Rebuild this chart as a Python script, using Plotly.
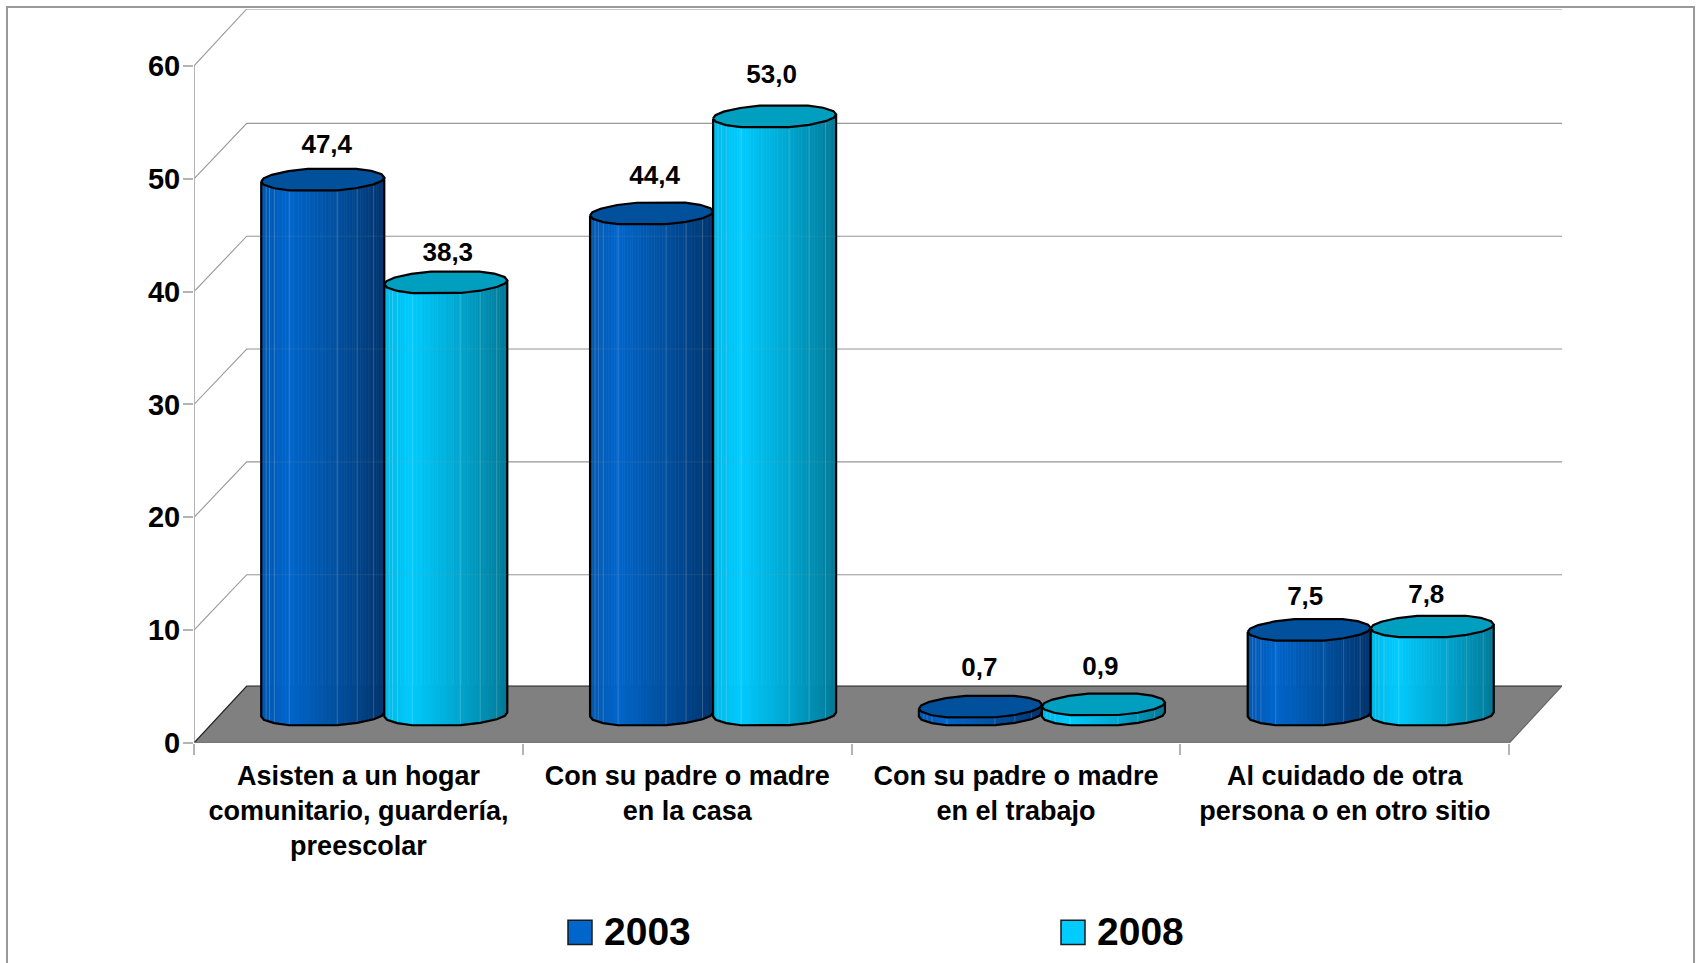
import numpy as np
import plotly.graph_objects as go

categories = ["Asisten a un hogar<br>comunitario, guardería,<br>preescolar",
              "Con su padre o madre<br>en la casa",
              "Con su padre o madre<br>en el trabajo",
              "Al cuidado de otra<br>persona o en otro sitio"]
series_2003 = [47.4, 44.4, 0.7, 7.5]
series_2008 = [38.3, 53.0, 0.9, 7.8]
labels_2003 = ["47,4", "44,4", "0,7", "7,5"]
labels_2008 = ["38,3", "53,0", "0,9", "7,8"]
y_ticks = [0, 10, 20, 30, 40, 50, 60]

# layout constants (pixels)
W, H = 1696, 963
L, R, T, B = 194, 1562, 9, 742.7     # plot area, includes the oblique depth
CAT_PX = 328.75
UNIT_PX = 11.28
DX_PX, DY_PX, WALL_DY_PX = 52.7, 57, 55.4
RX_PX, RY_PX, TILT_PX = 61.5, 11.5, 2.0
CENTER_SHIFT_PX = -0.5
FONT = "Liberation Sans"
DEPTH_X = DX_PX / CAT_PX
DEPTH_Y = DY_PX / UNIT_PX
WALL_Y = WALL_DY_PX / UNIT_PX
XMAX = 4 + DEPTH_X
YMAX = (B - T) / UNIT_PX
BAR_W = 2 * RX_PX / CAT_PX
# offsets of each value label from its cap centre, pixels
LABEL_UP_2003 = [33.5, 35.5, 37.5, 31]
LABEL_UP_2008 = [28, 40, 35.5, 29.5]
LABEL_RIGHT_2003 = [4, 3, -1, -4]
LABEL_RIGHT_2008 = [2, -3, -3, -6]
# where the corners of the faceted column ends sit, degrees round the far half
FACET_DEG = [180, 164, 146, 124, 104, 57, 38, 17, 0]

GRAD_DARK = [(0, "#0057AE"), (.22, "#0066CC"), (.62, "#00509F"), (1, "#00356F")]
GRAD_LIGHT = [(0, "#00B8E6"), (.22, "#00CCFF"), (.62, "#00A6CF"), (.9, "#0085A6"), (1, "#007996")]
CAP_DARK, CAP_LIGHT = "#00509C", "#009EBF"
SHEEN = [.04, .067, .107, .228, .618, .78, .914]
GRID = "#999999"


def mix(stops, f):
    xs = [s[0] for s in stops]
    rgb = [[int(s[1][i:i + 2], 16) for s in stops] for i in (1, 3, 5)]
    return "rgb(%d,%d,%d)" % tuple(np.interp(f, xs, c) for c in rgb)


fig = go.Figure()


def add_fill(xs, ys, color, line=None, width=0):
    fig.add_trace(go.Scatter(x=list(xs), y=list(ys), mode="lines", fill="toself", fillcolor=color, cliponaxis=False,
                             line=dict(color=line or color, width=width), hoverinfo="skip", showlegend=False))


def add_line(xs, ys, color, width):
    fig.add_trace(go.Scatter(x=list(xs), y=list(ys), mode="lines", line=dict(color=color, width=width),
                             cliponaxis=False, hoverinfo="skip", showlegend=False))


def wall_lines():
    xs, ys = [], []
    for k in y_ticks[1:]:
        top = YMAX if k == y_ticks[-1] else k + WALL_Y
        xs += [0, DEPTH_X, XMAX, None]
        ys += [k, top, top, None]
    return xs, ys


# walls, y axis line
wx, wy = wall_lines()
add_line(wx, wy, GRID, 1.1)
add_line([0, 0], [0, 60], "#B4B4B4", 2)
# floor
add_fill([0, DEPTH_X, XMAX, 4, 0], [0, DEPTH_Y, DEPTH_Y, 0, 0], "#808080")
add_line([0, DEPTH_X, XMAX], [0, DEPTH_Y, DEPTH_Y], "#222222", 1.2)
add_line([XMAX, 4], [DEPTH_Y, 0], "#666666", 1.2)
add_line([0, 4], [0, 0], "#777777", 2.4)


def cylinder(cx, value, stops, cap):
    rx = RX_PX / CAT_PX
    ry = RY_PX / UNIT_PX
    tilt = TILT_PX / UNIT_PX
    base = DEPTH_Y / 2
    far = np.radians(FACET_DEG)
    # far half left to right, then near half (point symmetric) right to left
    ang = np.concatenate([far, far[1:] + np.pi])
    px = cx + rx * np.cos(ang)
    py = ry * np.sin(ang) + tilt * np.cos(ang)
    # near half, left to right
    fa = (far + np.pi)
    fx = cx + rx * np.cos(fa)[::-1]
    fy = (ry * np.sin(fa) + tilt * np.cos(fa))[::-1]
    edges = np.linspace(fx[0], fx[-1], 47)
    low = base + np.interp(edges, fx, fy)
    for i in range(len(edges) - 1):
        f = (i + .5) / (len(edges) - 1)
        add_fill([edges[i], edges[i + 1], edges[i + 1], edges[i], edges[i]],
                 [low[i], low[i + 1], low[i + 1] + value, low[i] + value, low[i]],
                 mix(stops, f), width=.7)
    sx, sy = [], []
    for f in SHEEN:
        x = fx[0] + f * (fx[-1] - fx[0])
        y0 = base + float(np.interp(x, fx, fy))
        sx += [x, x, None]
        sy += [y0, y0 + value, None]
    add_line(sx, sy, "rgba(255,255,255,0.18)", 1)
    add_line([fx[0]] + list(fx) + [fx[-1]],
             [base + value + fy[0]] + list(base + fy) + [base + value + fy[-1]], "#000000", 2.2)
    add_fill(px, base + value + py, cap, "#000000", 2.2)


for i in range(4):
    mid = i + .5 + DEPTH_X / 2 + CENTER_SHIFT_PX / CAT_PX
    cylinder(mid - BAR_W / 2, series_2003[i], GRAD_DARK, CAP_DARK)
    cylinder(mid + BAR_W / 2, series_2008[i], GRAD_LIGHT, CAP_LIGHT)

# the wall lines show faintly through the columns
add_line(wx, wy, "rgba(170,170,170,0.14)", 1)

# value labels
lx, ly, lt = [], [], []
for i in range(4):
    mid = i + .5 + DEPTH_X / 2 + CENTER_SHIFT_PX / CAT_PX
    for cx, v, s, up, right in ((mid - BAR_W / 2, series_2003[i], labels_2003[i], LABEL_UP_2003[i], LABEL_RIGHT_2003[i]),
                                (mid + BAR_W / 2, series_2008[i], labels_2008[i], LABEL_UP_2008[i], LABEL_RIGHT_2008[i])):
        lx.append(cx + right / CAT_PX)
        ly.append(v + DEPTH_Y / 2 + up / UNIT_PX)
        lt.append(s)
fig.add_trace(go.Scatter(x=lx, y=ly, text=lt, mode="text", textposition="middle center",
                         textfont=dict(family=FONT, size=26, color="#000000", weight=700),
                         hoverinfo="skip", showlegend=False))


def pxx(p):
    return (p - L) / (R - L)


def pxy(p):
    return (B - p) / (B - T)


shapes = [dict(type="rect", xref="paper", yref="paper", x0=pxx(7), x1=pxx(1694), y0=pxy(975), y1=pxy(7),
               line=dict(color="#999999", width=2), layer="below")]
annotations = []
for name, color, sw, tx in (("2003", "#0066CC", 568, 602), ("2008", "#00CCFF", 1061, 1095)):
    shapes.append(dict(type="rect", xref="paper", yref="paper", x0=pxx(sw), x1=pxx(sw + 24),
                       y0=pxy(944), y1=pxy(920), fillcolor=color, line=dict(color="#1A1A1A", width=1.5)))
    annotations.append(dict(xref="paper", yref="paper", x=pxx(tx), y=pxy(931), text=name, showarrow=False,
                            xanchor="left", yanchor="middle", font=dict(family=FONT, size=39, color="#000000", weight=700)))

fig.update_layout(
    width=W, height=H, margin=dict(l=L, r=W - R, t=T, b=H - B, pad=0, autoexpand=False),
    paper_bgcolor="#FFFFFF", plot_bgcolor="#FFFFFF", showlegend=False,
    shapes=shapes, annotations=annotations,
    xaxis=dict(range=[0, XMAX], showgrid=False, zeroline=False, showline=False, ticks="",
               tickmode="array", tickvals=[i + .5 for i in range(4)], ticktext=categories,
               tickfont=dict(family=FONT, size=27, color="#000000", weight=700), tickangle=0,
               ticklabelstandoff=14,
               minor=dict(tickmode="array", tickvals=[0, 1, 2, 3, 4], ticks="outside", ticklen=11,
                          tickwidth=1.5, tickcolor="#B4B4B4", showgrid=False)),
    yaxis=dict(range=[0, YMAX], showgrid=False, zeroline=False, showline=False, ticks="outside", ticklen=10,
               tickwidth=1.5, tickcolor="#B4B4B4", tickmode="array", tickvals=y_ticks,
               ticktext=[str(v) for v in y_ticks], ticklabelstandoff=-3,
               tickfont=dict(family=FONT, size=29, color="#000000", weight=700)),
)
fig.write_html("out.html", post_script="document.body.style.margin='0';", config=dict(displayModeBar=False))
